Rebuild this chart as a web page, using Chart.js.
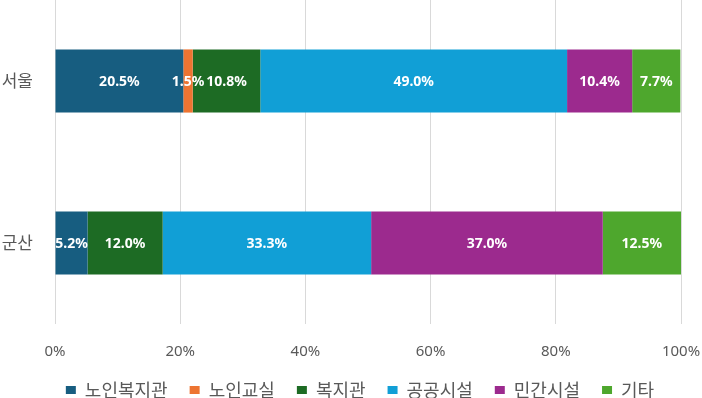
<!DOCTYPE html>
<html>
<head>
<meta charset="utf-8">
<script src="https://cdn.jsdelivr.net/npm/chart.js@4"></script>
<style>
    html, body { margin: 0; padding: 0; background: #fff; }
    #wrap { width: 702px; height: 398px; }
</style>
</head>
<body>
<div id="wrap"><canvas id="chart" width="702" height="398"></canvas></div>
<script>
const regions = ["서울", "군산"];
const seriesNames = ["노인복지관", "노인교실", "복지관", "공공시설", "민간시설", "기타"];
const seriesColors = ["#175d80", "#ed7431", "#1d6b24", "#119fd6", "#9c2a8e", "#4ea72d"];
// 각 항목 비율 (%) - 서울, 군산 순서
const welfareCenter = [20.5, 5.2];
const seniorClass = [1.5, 0];
const communityCenter = [10.8, 12.0];
const publicFacility = [49.0, 33.3];
const privateFacility = [10.4, 37.0];
const others = [7.7, 12.5];
const xTicks = [0, 20, 40, 60, 80, 100];

const seriesValues = [welfareCenter, seniorClass, communityCenter, publicFacility, privateFacility, others];
const krFont = "'Noto Sans CJK KR', 'Noto Sans', sans-serif";
const numFont = "'Noto Sans', sans-serif";

// 막대 가운데에 값 표시
const valueLabels = {
    id: "valueLabels",
    afterDatasetsDraw(chart) {
        const ctx = chart.ctx;
        ctx.save();
        ctx.font = "bold 14px " + numFont;
        ctx.fillStyle = "#ffffff";
        ctx.textAlign = "center";
        ctx.textBaseline = "middle";
        chart.data.datasets.forEach((ds, i) => {
            const meta = chart.getDatasetMeta(i);
            meta.data.forEach((bar, j) => {
                const v = ds.data[j];
                if (!v) return;
                ctx.fillText(v.toFixed(1) + "%", (bar.x + bar.base) / 2, bar.y + 1);
            });
        });
        ctx.restore();
    }
};

// 범례를 조금 오른쪽으로 (원본처럼)
const legendShift = {
    id: "legendShift",
    afterLayout(chart) {
        chart.legend.left += 9;
        chart.legend.right += 9;
    }
};

new Chart(document.getElementById("chart").getContext("2d"), {
    type: "bar",
    data: {
        labels: regions,
        datasets: seriesNames.map((name, i) => ({
            label: name,
            data: seriesValues[i],
            backgroundColor: seriesColors[i],
            borderWidth: 0,
            barPercentage: 0.39,
            categoryPercentage: 1
        }))
    },
    options: {
        indexAxis: "y",
        responsive: false,
        animation: false,
        layout: { padding: { top: 0, right: 0, left: 0, bottom: -11 } },
        plugins: {
            legend: {
                position: "bottom",
                labels: {
                    font: { family: krFont, size: 18 },
                    color: "#595959",
                    boxWidth: 10,
                    boxHeight: 8,
                    padding: 22
                }
            },
            tooltip: { enabled: false }
        },
        scales: {
            x: {
                stacked: true,
                min: 0,
                max: 100,
                afterBuildTicks: s => { s.ticks = xTicks.map(v => ({ value: v })); },
                afterFit: s => { s.paddingLeft = 0; s.paddingRight = 21; s.height -= 21; },
                ticks: {
                    callback: v => v + "%",
                    color: "#595959",
                    font: { family: numFont, size: 15 },
                    padding: 19,
                    maxRotation: 0
                },
                grid: { color: "#d9d9d9", drawTicks: false },
                border: { display: false }
            },
            y: {
                stacked: true,
                afterFit: s => { s.width = 55; s.paddingTop = 0; s.paddingBottom = 0; },
                ticks: {
                    color: "#595959",
                    font: { family: krFont, size: 17 },
                    padding: 14
                },
                grid: { display: false },
                border: { display: false }
            }
        }
    },
    plugins: [valueLabels, legendShift]
});
</script>
</body>
</html>
